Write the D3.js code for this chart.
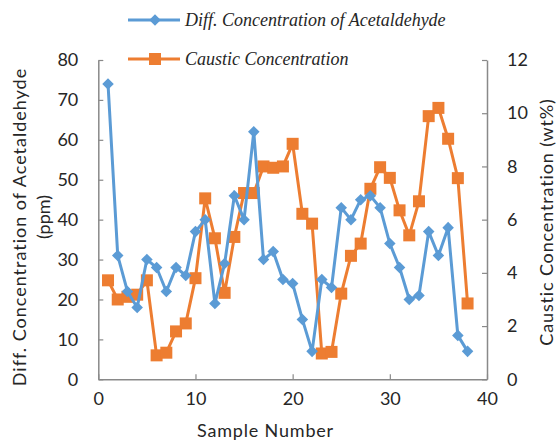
<!DOCTYPE html>
<html>
<head>
<meta charset="utf-8">
<script src="https://cdn.jsdelivr.net/npm/d3@7"></script>
<style>
  body { margin: 0; background: #fff; }
  svg { display: block; }
</style>
</head>
<body>
<svg id="chart" width="558" height="444"></svg>
<script>
const samples = d3.range(1, 39);
const acetaldehyde = [74, 31, 22, 18, 30, 28, 22, 28, 26, 37, 40, 19, 29, 46, 40, 62, 30, 32, 25, 24, 15, 7, 25, 23, 43, 40, 45, 46, 43, 34, 28, 20, 21, 37, 31, 38, 11, 7];
const caustic = [3.72, 3.0, 3.1, 3.18, 3.72, 0.9, 1.0, 1.8, 2.1, 3.8, 6.8, 5.3, 3.25, 5.35, 7.0, 7.0, 8.0, 7.95, 8.0, 8.85, 6.22, 5.85, 0.97, 1.03, 3.22, 4.64, 5.1, 7.16, 7.97, 7.57, 6.35, 5.41, 6.69, 9.89, 10.2, 9.04, 7.56, 2.85];
const xTicks = [0, 10, 20, 30, 40];
const yLeftTicks = [0, 10, 20, 30, 40, 50, 60, 70, 80];
const yRightTicks = [0, 2, 4, 6, 8, 10, 12];
const seriesNames = ["Diff. Concentration of Acetaldehyde", "Caustic Concentration"];

const blue = "#5B9BD5", orange = "#ED7D31", axisColor = "#898989", textColor = "#262626";
const svg = d3.select("#chart");
const m = {left: 98.3, right: 487, top: 60, bottom: 379.3};
const sansFont = "Lato, 'Open Sans', sans-serif";

const x = d3.scaleLinear().domain([0, 40]).range([m.left, m.right]);
const yL = d3.scaleLinear().domain([0, 80]).range([m.bottom, m.top]);
const yR = d3.scaleLinear().domain([0, 12]).range([m.bottom, m.top]);

function styleAxis(g) {
  g.selectAll(".domain").attr("stroke", axisColor).attr("stroke-width", 1.5);
  g.selectAll(".tick line").attr("stroke", axisColor).attr("stroke-width", 1.2);
  g.selectAll(".tick text").attr("fill", textColor).style("font-family", sansFont).style("font-size", "18px");
}

svg.append("g").attr("transform", `translate(0,${m.bottom})`)
  .call(d3.axisBottom(x).tickValues(xTicks).tickSize(-5).tickSizeOuter(0).tickPadding(13))
  .call(styleAxis);
svg.append("g").attr("transform", `translate(${m.left},0)`)
  .call(d3.axisLeft(yL).tickValues(yLeftTicks).tickSize(-5).tickSizeOuter(0).tickPadding(20))
  .call(styleAxis);
svg.append("g").attr("transform", `translate(${m.right},0)`)
  .call(d3.axisRight(yR).tickValues(yRightTicks).tickSize(-5).tickSizeOuter(0).tickPadding(20))
  .call(styleAxis);

// Lines
const lineA = d3.line().x((d, i) => x(samples[i])).y(d => yL(d));
const lineC = d3.line().x((d, i) => x(samples[i])).y(d => yR(d));

svg.append("path").datum(caustic).attr("d", lineC).attr("fill", "none").attr("stroke", orange).attr("stroke-width", 3);
svg.append("g").selectAll("rect").data(caustic).join("rect")
  .attr("x", (d, i) => x(samples[i]) - 6).attr("y", d => yR(d) - 6)
  .attr("width", 12).attr("height", 12).attr("fill", orange);

svg.append("path").datum(acetaldehyde).attr("d", lineA).attr("fill", "none").attr("stroke", blue).attr("stroke-width", 3);
const diamond = d3.symbol().type(d3.symbolDiamond2).size(85);
svg.append("g").selectAll("path").data(acetaldehyde).join("path")
  .attr("d", diamond)
  .attr("transform", (d, i) => `translate(${x(samples[i])},${yL(d)})`)
  .attr("fill", blue);

// Legend
const leg = svg.append("g");
const legRows = [{y: 20, color: blue, shape: "diamond"}, {y: 59, color: orange, shape: "square"}];
legRows.forEach((r, i) => {
  leg.append("line").attr("x1", 128).attr("x2", 180).attr("y1", r.y).attr("y2", r.y).attr("stroke", r.color).attr("stroke-width", 3);
  if (r.shape === "diamond") {
    leg.append("path").attr("d", diamond).attr("transform", `translate(155,${r.y})`).attr("fill", r.color);
  } else {
    leg.append("rect").attr("x", 149).attr("y", r.y - 6).attr("width", 12).attr("height", 12).attr("fill", r.color);
  }
  leg.append("text").attr("x", 185).attr("y", r.y + 5.5).text(seriesNames[i])
    .style("font-family", "'Liberation Serif', serif").style("font-style", "italic").style("font-size", "18px").attr("fill", textColor);
});

// Axis titles: 18px, letter spacing fitted to the reference text lengths
function title(tx, ty, rot, txt, targetLen) {
  const t = svg.append("text")
    .attr("transform", `translate(${tx},${ty})` + (rot ? ` rotate(${rot})` : ""))
    .attr("text-anchor", "middle")
    .style("font-family", sansFont).style("font-size", "18px").attr("fill", textColor)
    .text(txt);
  const len = t.node().getComputedTextLength();
  if (targetLen && len > 0) {
    const ls = Math.max(-0.5, Math.min(1.5, (targetLen - len) / txt.length));
    t.style("letter-spacing", ls + "px");
  }
  return t;
}
title(26, 227, -90, "Diff. Concentration of Acetaldehyde", 318);
title(50, 217, -90, "(ppm)", null);
title(553, 222, -90, "Caustic Concentration (wt%)", 248);
title(265.5, 437, 0, "Sample Number", 137);
</script>
</body>
</html>
